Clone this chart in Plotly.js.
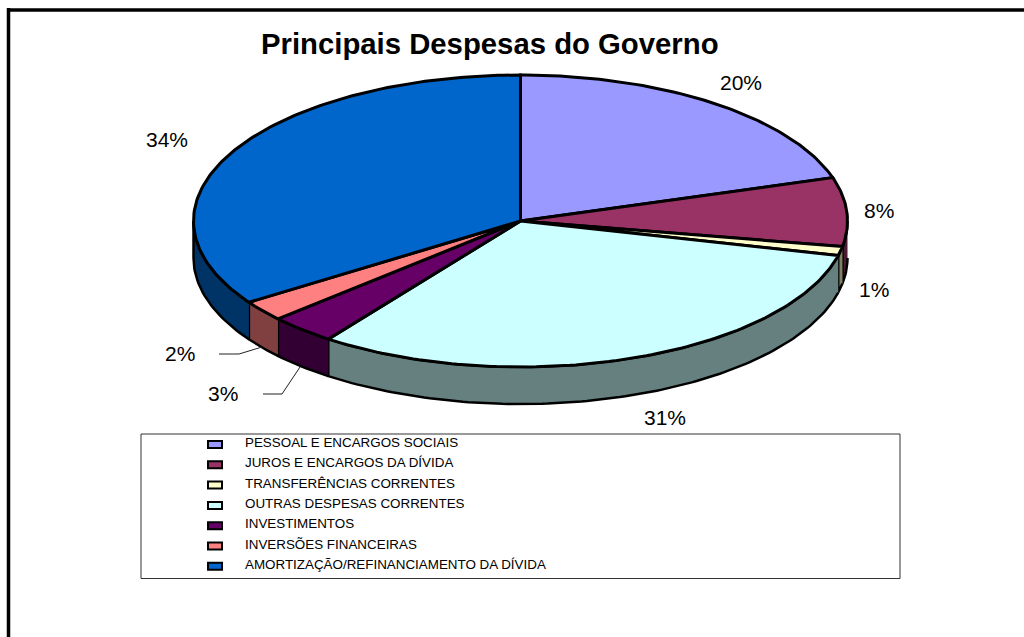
<!DOCTYPE html>
<html lang="pt">
<head>
<meta charset="utf-8">
<title>Principais Despesas do Governo</title>
<script src="https://cdn.plot.ly/plotly-3.0.1.min.js"></script>
<style>
  html, body { margin: 0; padding: 0; background: #fff; }
  #chart { width: 1024px; height: 637px; }
</style>
</head>
<body>
<div id="chart"></div>
<script>
// Spending categories, shares (percent) and slice colours
const categories = [
  "PESSOAL E ENCARGOS SOCIAIS",
  "JUROS E ENCARGOS DA DÍVIDA",
  "TRANSFERÊNCIAS CORRENTES",
  "OUTRAS DESPESAS CORRENTES",
  "INVESTIMENTOS",
  "INVERSÕES FINANCEIRAS",
  "AMORTIZAÇÃO/REFINANCIAMENTO DA DÍVIDA"
];
const shares = [20.2, 7.6, 1.0, 31.2, 3.3, 2.3, 34.4];
const topColors = ["#9999FF", "#993366", "#FFFFCC", "#CCFFFF", "#660066", "#FF8080", "#0066CC"];
const wallColors = ["#4D4D80", "#4D1A33", "#808066", "#668080", "#330033", "#804040", "#003366"];
const labelAnchors = [[741, 82], [879, 210], [874, 289], [665, 417], [223, 393], [180, 353], [167, 139]];

// Tilted pie geometry, in page pixels
const pie = { cx: 520.5, cy: 221, rx: 327, ry: 146, depth: 37 };
const FONT = "Liberation Sans, Arial, sans-serif";

const rim = (deg, drop) => {
  const a = deg * Math.PI / 180;
  return [pie.cx + pie.rx * Math.sin(a), pie.cy - pie.ry * Math.cos(a) + drop];
};
const arc = (from, to, drop) => {
  const pts = [];
  const steps = Math.max(2, Math.ceil(Math.abs(to - from)));
  for (let i = 0; i <= steps; i++) pts.push(rim(from + (to - from) * i / steps, drop));
  return pts;
};
const polygon = (pts, name, color, width) => ({
  type: "scatter",
  mode: "lines",
  x: pts.map(p => p[0]),
  y: pts.map(p => p[1]),
  fill: "toself",
  fillcolor: color,
  line: { color: "#000", width: width, shape: "linear" },
  name: name,
  hoverinfo: "name",
  showlegend: false
});

// Cumulative start and end angle of each slice, clockwise from twelve o'clock
const total = shares.reduce((s, v) => s + v, 0);
let running = 0;
const spans = shares.map(v => {
  const start = running / total * 360;
  running += v;
  return [start, running / total * 360];
});

// Outer walls exist only on the front half of the rim (90 to 270 degrees)
const walls = [];
spans.forEach(([a, b], i) => {
  const from = Math.max(a, 90), to = Math.min(b, 270);
  if (to > from) {
    walls.push(polygon(
      arc(from, to, 0).concat(arc(to, from, pie.depth)),
      categories[i], wallColors[i], 2.5));
  }
});

const tops = spans.map(([a, b], i) =>
  polygon([[pie.cx, pie.cy]].concat(arc(a, b, 0), [[pie.cx, pie.cy]]),
    categories[i], topColors[i], 3));

// Percentage labels, rounded from the plotted shares
const annotations = shares.map((v, i) => ({
  x: labelAnchors[i][0], y: labelAnchors[i][1],
  xref: "x", yref: "y", xanchor: "center", yanchor: "middle",
  text: Math.round(v) + "%", showarrow: false,
  font: { family: FONT, size: 21, color: "#000" }
}));

annotations.push({
  x: 490, y: 43, xref: "x", yref: "y", xanchor: "center", yanchor: "middle",
  text: "<b>Principais Despesas do Governo</b>", showarrow: false,
  font: { family: FONT, size: 29.3, color: "#000" }
});

// Top and left page rules, legend box and the two leader lines
const shapes = [
  { type: "line", xref: "x", yref: "y", x0: 7, y0: 10, x1: 1024, y1: 10, line: { color: "#000", width: 3.5 } },
  { type: "line", xref: "x", yref: "y", x0: 8.5, y0: 8, x1: 8.5, y1: 637, line: { color: "#000", width: 3.5 } },
  { type: "rect", xref: "x", yref: "y", x0: 141, y0: 434, x1: 900, y1: 578.5, line: { color: "#333", width: 1 } },
  { type: "path", xref: "x", yref: "y", path: "M219,354 L239,354 L262,347", line: { color: "#222", width: 1 } },
  { type: "path", xref: "x", yref: "y", path: "M263,394 L282,394 L300,367", line: { color: "#222", width: 1 } }
];

// Legend rows: colour key plus category name
const legendTop = 444.5, legendStep = 20.3;
categories.forEach((name, i) => {
  const y = legendTop + i * legendStep;
  shapes.push({
    type: "rect", xref: "x", yref: "y",
    x0: 208, x1: 222, y0: y - 3.5, y1: y + 3.5,
    fillcolor: topColors[i], line: { color: "#000", width: 2 }
  });
  annotations.push({
    x: 242.5, y: y - 2, xref: "x", yref: "y", xanchor: "left", yanchor: "middle",
    text: name, showarrow: false,
    font: { family: FONT, size: 13.4, color: "#000" }
  });
});

const layout = {
  width: 1024, height: 637,
  margin: { l: 0, r: 0, t: 0, b: 0 },
  paper_bgcolor: "#fff", plot_bgcolor: "#fff",
  showlegend: false,
  xaxis: { range: [0, 1024], visible: false, fixedrange: true },
  yaxis: { range: [637, 0], visible: false, fixedrange: true },
  shapes: shapes,
  annotations: annotations
};

Plotly.newPlot("chart", walls.concat(tops), layout, { displayModeBar: false, responsive: false });
</script>
</body>
</html>
